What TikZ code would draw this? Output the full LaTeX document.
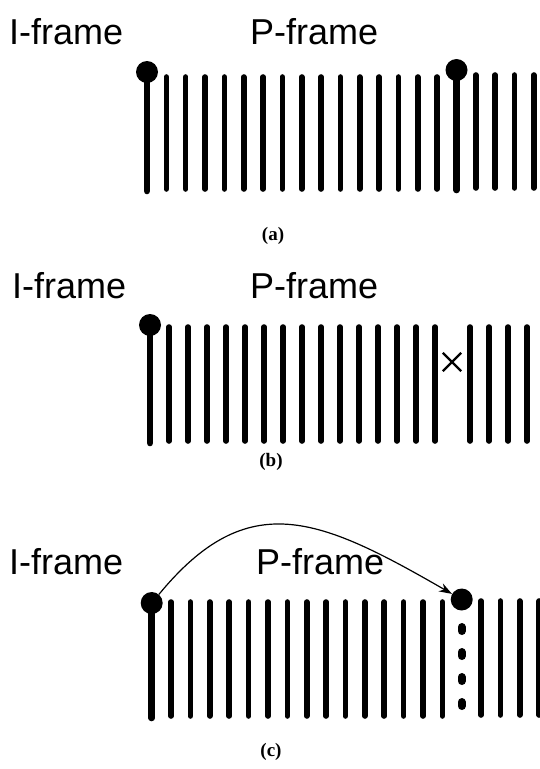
\documentclass[tikz,border=0pt]{standalone}
\usepackage{fontspec}
\setmainfont{Liberation Sans}
\newfontfamily\capfont{Liberation Serif}
\usetikzlibrary{arrows.meta}
\usetikzlibrary{shapes.misc}

\begin{document}
\begin{tikzpicture}[x=1pt,y=-1pt,
  frame/.style={anchor=base west,inner sep=0pt,font=\fontsize{36}{40}\selectfont},
  sub/.style={inner sep=0pt,font=\capfont\bfseries\fontsize{19}{22}\selectfont},
  ball/.style={circle,fill=black,inner sep=0pt,minimum size=22pt},
  bar/.style={line width=5.6pt,line cap=round},
  stem/.style={line width=6.6pt,line cap=round}]
  \useasboundingbox (0,0) rectangle (540,769);

  % (a) I-frame and the next reference frame
  \node[frame] (iA) at (9,44) {I-frame};
  \node[frame] (pA) at (250,44) {P-frame};
  \node[ball] (a0) at (147,72) {};
  \node[ball] (a16) at (456.5,70) {};
  \draw[stem] (a0.center) -- (147,191);
  \draw[stem] (a16.center) -- (456.5,190);
  \foreach \k [evaluate={\x=147+\k*19.34;}] in {1,...,15}{
    \draw[bar] (\x,77) -- (\x,189);
  }
  \foreach \k [evaluate={\x=147+\k*19.34;}] in {17,...,20}{
    \draw[bar] (\x,75) -- (\x,188);
  }
  \node[sub] (capA) at (273,236) {(a)};

  % (b) one frame lost
  \node[frame] (iB) at (12,298) {I-frame};
  \node[frame] (pB) at (250,298) {P-frame};
  \node[ball] (b0) at (150,325) {};
  \draw[stem] (b0.center) -- (150,443);
  \foreach \k [evaluate={\x=150+\k*19;}] in {1,...,15}{
    \draw[bar] (\x,327) -- (\x,441);
  }
  \node[draw,cross out,line width=2.4pt,minimum size=16pt,inner sep=0pt] (lost) at (452,362) {};
  \foreach \x in {470,489,508,527}{
    \draw[bar] (\x,327) -- (\x,441);
  }
  \node[sub] (capB) at (271,462) {(b)};

  % (c) refresh from the I-frame
  \node[frame] (iC) at (9,574) {I-frame};
  \node[frame] (pC) at (256,574) {P-frame};
  \node[ball] (c0) at (151.7,603) {};
  \node[ball] (c16) at (461.7,599.5) {};
  \draw[stem] (c0.center) -- (151.7,718);
  \foreach \k [evaluate={\x=151.7+\k*19.375;}] in {1,...,15}{
    \draw[bar] (\x,602) -- (\x,716);
  }
  \foreach \k [evaluate={\x=151.7+\k*19.375;}] in {17,...,20}{
    \draw[bar] (\x,601) -- (\x,715);
  }
  \draw[line width=8pt,line cap=round,dash pattern=on 4pt off 21pt] (461.7,627) -- (461.7,712);
  \draw[-{Stealth[length=13pt,width=9pt]},line width=1.2pt]
    (c0.50) .. controls (248,486) and (319.5,517.5) .. (c16.150);
  \node[sub] (capC) at (271,752) {(c)};
\end{tikzpicture}
\end{document}
